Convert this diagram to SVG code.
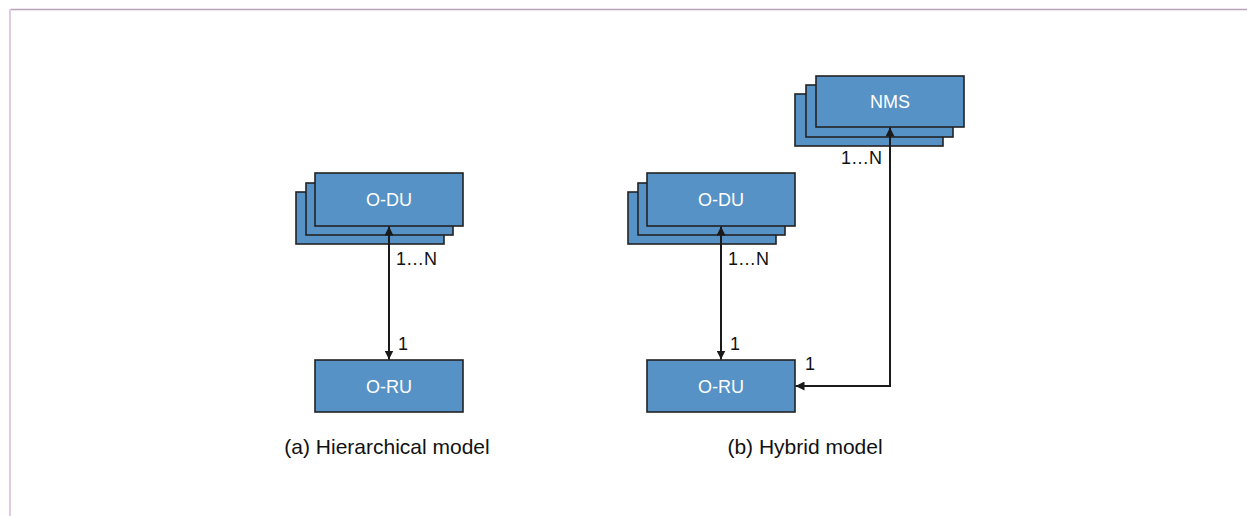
<svg xmlns="http://www.w3.org/2000/svg" width="1247" height="516" viewBox="0 0 1247 516">
  <defs>
    <marker id="arrowhead" viewBox="0 0 10 10" refX="10" refY="5" markerWidth="9" markerHeight="9" markerUnits="userSpaceOnUse" orient="auto-start-reverse">
      <path d="M0,0 L10,5 L0,10 Z" fill="#1a1a1a"/>
    </marker>
  </defs>
  <style>
    .box { fill: #5692c6; stroke: #222; stroke-width: 1.6; }
    .label { font-family: "Liberation Sans", Arial, sans-serif; font-size: 18px; fill: #ffffff; text-anchor: middle; }
    .note { font-family: "Liberation Sans", Arial, sans-serif; font-size: 18px; fill: #111; }
    .caption { font-family: "Liberation Sans", Arial, sans-serif; font-size: 21px; fill: #111; text-anchor: middle; }
    .link { fill: none; stroke: #1a1a1a; stroke-width: 2; marker-start: url(#arrowhead); marker-end: url(#arrowhead); }
  </style>

  <rect width="1247" height="516" fill="#ffffff"/>
  <!-- page frame -->
  <line x1="10" y1="9.5" x2="1247" y2="9.5" stroke="#bba3b9" stroke-width="1.5"/>
  <line x1="10" y1="9" x2="10" y2="516" stroke="#e0cbe0" stroke-width="2"/>

  <!-- (a) hierarchical model -->
  <g id="odu-a">
    <rect class="box" x="296" y="192" width="148" height="52"/>
    <rect class="box" x="306" y="183" width="147" height="52"/>
    <rect class="box" x="315" y="173" width="148" height="53"/>
    <text class="label" x="389" y="206">O-DU</text>
  </g>
  <g id="oru-a">
    <rect class="box" x="315" y="360" width="148" height="52"/>
    <text class="label" x="389" y="393">O-RU</text>
  </g>

  <!-- (b) hybrid model -->
  <g id="odu-b">
    <rect class="box" x="628" y="192" width="148" height="52"/>
    <rect class="box" x="638" y="183" width="147" height="52"/>
    <rect class="box" x="647" y="173" width="148" height="53"/>
    <text class="label" x="721" y="206">O-DU</text>
  </g>
  <g id="oru-b">
    <rect class="box" x="647" y="360" width="148" height="52"/>
    <text class="label" x="721" y="393">O-RU</text>
  </g>
  <g id="nms">
    <rect class="box" x="795" y="94" width="148" height="52"/>
    <rect class="box" x="806" y="85" width="147" height="52"/>
    <rect class="box" x="816" y="76" width="148" height="51"/>
    <text class="label" x="890" y="108">NMS</text>
  </g>

  <g id="connectors">
    <path class="link" d="M389,226.5 L389,359.5"/>
    <path class="link" d="M721,226.5 L721,359.5"/>
    <path class="link" d="M890,127.5 L890,386 L795.5,386"/>
  </g>

  <g id="multiplicities">
    <text class="note" x="396" y="265">1…N</text>
    <text class="note" x="398" y="350">1</text>
    <text class="note" x="728" y="265">1…N</text>
    <text class="note" x="730" y="350">1</text>
    <text class="note" x="882" y="164" text-anchor="end">1…N</text>
    <text class="note" x="805" y="370">1</text>
  </g>

  <g id="captions">
    <text class="caption" x="387" y="454">(a) Hierarchical model</text>
    <text class="caption" x="805" y="454">(b) Hybrid model</text>
  </g>
</svg>
